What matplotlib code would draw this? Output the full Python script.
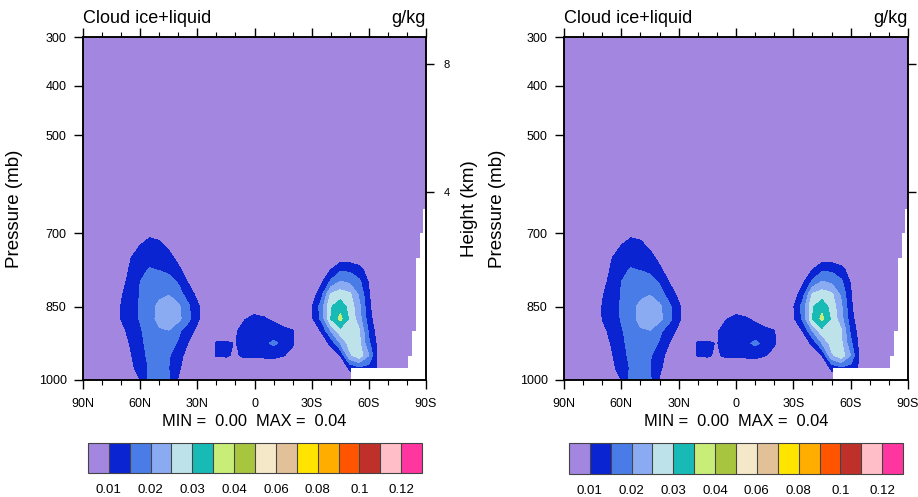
import numpy as np
import matplotlib
matplotlib.use('Agg')
import matplotlib.pyplot as plt
from matplotlib.ticker import MultipleLocator

plt.rcParams['font.family'] = ['Liberation Sans', 'DejaVu Sans']

# latitude (deg N, south negative) and pressure levels (mb)
lat = [90, 85, 80, 75, 70, 65, 60, 55, 50, 45, 40, 35, 30,
       25, 20, 15, 10, 5, 0, -5, -10, -15, -20, -25,
       -30, -35, -40, -45, -50, -55, -60, -65, -70, -75, -80, -85, -90]
plev = [300, 650, 700, 725, 750, 775, 800, 825, 850, 875, 900, 925, 950, 975, 1000]

# cloud ice+liquid in 1e-3 g/kg, one row per pressure level
cloud = [
    [0.1, 0.1, 0.1, 0.2, 0.2, 0.3, 0.3, 0.3, 0.3, 0.3, 0.2, 0.2, 0.2,
     0.2, 0.2, 0.3, 0.4, 0.5, 0.5, 0.5, 0.4, 0.3, 0.2, 0.2,
     0.2, 0.2, 0.2, 0.3, 0.3, 0.3, 0.3, 0.2, 0.2, 0.1, 0.1, 0.1, 0.1],
    [0.5, 0.5, 1, 1.5, 2, 2.5, 3.5, 4.5, 4, 3.5, 3, 2.5, 2,
     2, 2, 2, 2, 2, 2, 2, 2, 2, 2, 2,
     2, 2, 2.5, 2.5, 2.5, 2, 2, 1.5, 1.5, 1, 1, 0.5, 0.5],
    [1, 1, 2, 3, 4, 5, 7, 9, 8.5, 7, 5, 4, 3,
     3, 3, 3, 3, 3, 3, 3, 3, 3, 3, 3,
     3, 3, 4, 4, 4, 3, 3, 2, 2, 2, 2, 1, 1],
    [1, 1, 2, 3, 4.5, 6.5, 10, 11.5, 11, 9, 6, 4.5, 3.5,
     3, 3, 3, 3, 3, 3, 3, 3, 3, 3, 3,
     3, 4, 5, 5.5, 5.5, 4.5, 3.5, 3, 2, 2, 2, 1, 1],
    [1, 1.5, 2.5, 3.5, 5.5, 9.8, 12.5, 13.5, 13, 11.5, 8.5, 5.5, 4,
     3.5, 3.5, 3.5, 3.5, 3.5, 3.5, 3.5, 3.5, 3.5, 3.5, 3.5,
     4, 5, 6, 7, 7, 6, 4.5, 3.5, 2.5, 2, 2, 1.5, 1],
    [1.5, 2, 3, 4.5, 7, 10.8, 14, 15.3, 14.8, 13.5, 11, 7.5, 5,
     4, 4, 4, 4, 4, 4, 4, 4, 4, 4, 4,
     4.5, 6, 10, 14, 14, 12, 7, 4.5, 3, 2.5, 2, 1.5, 1.5],
    [1.5, 2, 3, 4, 8.5, 11.5, 15, 17, 18, 17.5, 14.5, 9.8, 6,
     4.5, 4, 4, 4, 4, 4, 4, 4, 4, 4, 4,
     5, 9, 16, 20.5, 19, 16, 9.5, 5, 3.5, 3, 2.5, 2, 2],
    [2, 2.5, 3.5, 5, 9.5, 12.5, 15.2, 17.5, 19, 19.8, 17, 13, 8.5,
     5, 4.5, 4.5, 4.5, 4.5, 4.5, 4.5, 4.5, 4.5, 4.5, 4,
     7, 13, 25.5, 27.5, 26, 19, 10.5, 5, 4, 3.5, 3, 2.5, 2],
    [2, 2.5, 3.5, 5, 10.2, 13, 15.5, 18.5, 21, 22.5, 21, 16, 11,
     6, 5, 5, 5, 6, 8, 7, 6, 5.5, 5, 5,
     9.5, 17, 29.5, 33, 28, 21, 11, 5, 4, 3.5, 3, 2.5, 2],
    [2, 2.5, 3.5, 5, 10.1, 13, 15.3, 18.5, 21.2, 22.5, 21.5, 16.5, 11,
     6, 5.5, 5.5, 7, 9.8, 11, 10.5, 9, 8, 6, 5,
     9, 16, 30, 36.5, 29, 22, 12, 6, 4, 3.5, 3, 2.5, 2],
    [2, 2.5, 3.5, 4, 8.5, 11.5, 14.5, 17, 19.5, 19.8, 16, 12.5, 8.5,
     5, 6.3, 6.3, 9.5, 12, 13, 13, 12.5, 11, 10.3, 6,
     7, 10.2, 20, 28, 27, 25.5, 14, 7, 4, 3.5, 3, 2.5, 2],
    [2, 2.5, 3, 4, 7, 10.5, 14, 16.5, 17.5, 17, 14.5, 10, 6,
     6, 10.5, 10.8, 9.7, 12.5, 13.5, 14, 15.8, 14, 10.5, 6,
     5, 7, 11, 20, 27, 26, 16, 8, 4, 3.5, 3, 2.5, 2],
    [2, 2, 3, 3.5, 5, 9.5, 13.5, 16, 17, 15.5, 12, 8, 5,
     5.5, 10.5, 10.8, 9, 11.5, 11.5, 11.5, 12, 10.3, 8.5, 5,
     4.5, 5, 7, 10, 24, 28, 20, 7.5, 4, 3.5, 3, 2.5, 2],
    [2, 2, 3, 3.5, 4.5, 8.5, 12.5, 15.5, 16.5, 15, 11, 7, 4.5,
     4.5, 4.5, 4.5, 4, 4, 4, 4, 4, 4, 4, 4,
     4, 4.5, 5, 6, 11, 14, 13, 9, 5, 3.5, 3, 2.5, 2],
    [2, 2, 3, 3.5, 4, 7.5, 10, 17, 17.5, 15.8, 9.5, 6, 4,
     4, 4, 4, 4, 4, 4, 4, 4, 4, 4, 4,
     4, 4, 4, 5, 7, 9, 9, 6, 4, 3, 3, 2.5, 2],
]

# below-ground (missing) region over Antarctica: step starts and surface pressure
sfc_lat = [-50.6, -80.7, -82.8, -84.6, -86.8, -88.2, -90]
sfc_p = [976, 952, 901, 752, 700, 652, 652]

levels = [-1, 0.01, 0.015, 0.02, 0.025, 0.03, 0.035, 0.04, 0.05, 0.06,
          0.07, 0.08, 0.09, 0.1, 0.11, 0.12, 1]
colors = ['#A286E0', '#0A24D2', '#4A7CE8', '#8AAAF2', '#BDE2EA', '#18BAB5',
          '#C8EE78', '#A8C540', '#F5E8C8', '#E2C098', '#FFE400', '#FFAE00',
          '#FF5500', '#C0302A', '#FFBEC8', '#FF35A0']
cb_ticks = [0.01, 0.02, 0.03, 0.04, 0.06, 0.08, 0.1, 0.12]
cb_labels = ['0.01', '0.02', '0.03', '0.04', '0.06', '0.08', '0.1', '0.12']

lat_ticks = [90, 60, 30, 0, -30, -60, -90]
lat_labels = ['90N', '60N', '30N', '0', '30S', '60S', '90S']
p_ticks = [300, 400, 500, 700, 850, 1000]
hgt_ticks = [4, 8]

field = np.array(cloud) / 1000.0


def z2p(z):
    # standard atmosphere, z in km
    return 1013.25 * (1 - 2.25577e-5 * np.asarray(z) * 1000.0) ** 5.25588


def panel(ax, cax, hgt_labels=True):
    cf = ax.contourf(lat, plev, field, levels=levels, colors=colors, zorder=1)
    ax.fill_between(sfc_lat, sfc_p, 1000, step='post', color='white', lw=0, zorder=2)
    ax.set_xlim(90, -90)
    ax.set_ylim(1000, 300)
    ax.set_xticks(lat_ticks)
    ax.set_xticklabels(lat_labels)
    ax.xaxis.set_minor_locator(MultipleLocator(10))
    ax.set_yticks(p_ticks)
    ax.set_yticklabels([str(p) for p in p_ticks])
    ax.tick_params(axis='x', which='major', direction='out', top=True, length=6.3,
                   width=1.0, labelsize=9, pad=6.5)
    ax.tick_params(axis='x', which='minor', direction='out', top=True, length=3.4, width=0.8)
    ax.tick_params(axis='y', which='major', direction='out', length=6.3, width=1.0,
                   labelsize=9, pad=5.5)
    for s in ax.spines.values():
        s.set_linewidth(1.1)

    tw = ax.twinx()
    tw.set_ylim(1000, 300)
    tw.set_yticks(z2p(hgt_ticks))
    if hgt_labels:
        tw.set_yticklabels([str(h) for h in hgt_ticks])
    else:
        tw.set_yticklabels([])
    tw.tick_params(axis='y', direction='out', length=5.5, width=1.0, labelsize=8, pad=7)
    for s in tw.spines.values():
        s.set_linewidth(1.1)

    ax.text(0, 1.042, 'Cloud ice+liquid', transform=ax.transAxes, ha='left',
            va='baseline', fontsize=13)
    ax.text(1, 1.042, 'g/kg', transform=ax.transAxes, ha='right',
            va='baseline', fontsize=13)
    mn, mx = field.min(), field.max()
    ax.text(0.5, -0.12, f'MIN = {mn:5.2f}  MAX = {mx:5.2f}', transform=ax.transAxes,
            ha='center', va='center', fontsize=11.8)

    cb = plt.colorbar(cf, cax=cax, orientation='horizontal', drawedges=True,
                      spacing='uniform')
    cb.set_ticks(cb_ticks)
    cb.set_ticklabels(cb_labels)
    cb.ax.tick_params(length=0, labelsize=9.5, pad=8)
    cb.outline.set_linewidth(0.8)
    cb.outline.set_edgecolor('#444444')
    cb.dividers.set_color('#444444')
    cb.dividers.set_linewidth(0.8)
    return ax


fig = plt.figure(figsize=(9.18, 4.97), dpi=100)
W, H = 918.0, 497.0
ax1 = fig.add_axes([83 / W, 117 / H, 343 / W, 343 / H])
ax2 = fig.add_axes([564 / W, 117 / H, 344 / W, 343 / H])
cax1 = fig.add_axes([88 / W, 24 / H, 334 / W, 30 / H])
cax2 = fig.add_axes([569 / W, 23 / H, 334 / W, 31 / H])
panel(ax1, cax1)
panel(ax2, cax2, hgt_labels=False)

fig.text(15 / W, 1 - 208.5 / H, 'Pressure (mb)', rotation=90, ha='center', va='center', fontsize=13.5)
fig.text(470 / W, 1 - 208.5 / H, 'Height (km)', rotation=90, ha='center', va='center', fontsize=13.5)
fig.text(497 / W, 1 - 208.5 / H, 'Pressure (mb)', rotation=90, ha='center', va='center', fontsize=13.5)

fig.savefig('out.png', dpi=100)
